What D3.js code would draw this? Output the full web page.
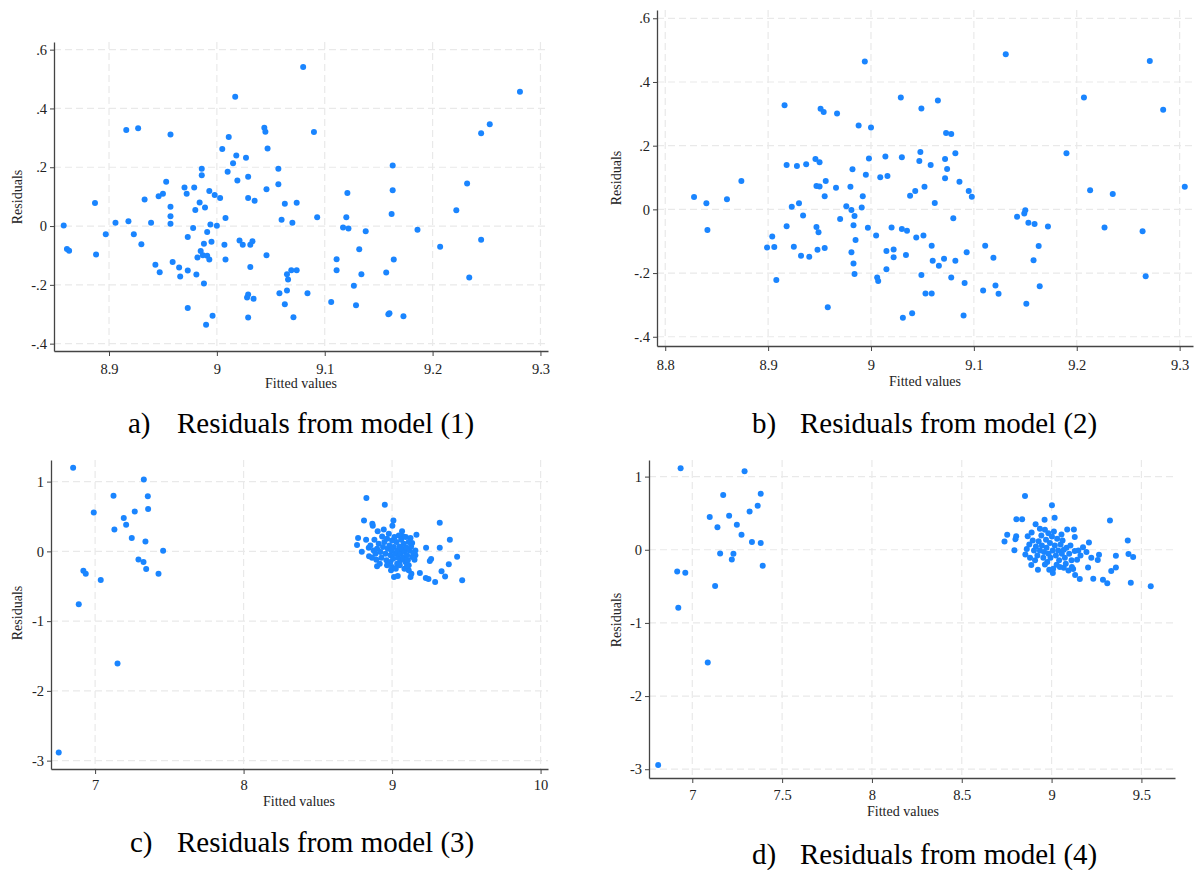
<!DOCTYPE html>
<html>
<head>
<meta charset="utf-8">
<script src="https://cdn.jsdelivr.net/npm/d3@7"></script>
<style>
  body { margin: 0; background: #fff; }
  svg text { font-family: "Liberation Serif", "Times New Roman", serif; fill: #222; }
</style>
</head>
<body>
<svg id="chart" width="1195" height="870"></svg>
<script>
// Residuals vs fitted values
const fittedA = [8.858,8.861,8.863,8.887,8.888,8.897,8.906,8.916,8.918,8.923,
  8.927,8.930,8.933,8.939,8.943,8.946,8.947,8.950,8.953,8.957,
  8.957,8.957,8.957,8.959,8.965,8.966,8.970,8.972,8.973,8.973,
  8.973,8.978,8.979,8.980,8.981,8.982,8.984,8.985,8.986,8.986,
  8.987,8.988,8.988,8.989,8.990,8.991,8.991,8.993,8.993,8.994,
  8.995,8.996,8.998,9.000,9.003,9.005,9.007,9.008,9.008,9.010,
  9.011,9.015,9.017,9.018,9.019,9.021,9.024,9.027,9.028,9.029,
  9.029,9.029,9.029,9.031,9.031,9.033,9.034,9.035,9.044,9.045,
  9.046,9.046,9.047,9.057,9.057,9.058,9.060,9.063,9.063,9.065,
  9.065,9.066,9.069,9.070,9.071,9.074,9.074,
  9.080,9.084,9.090,9.093,9.106,9.111,9.111,9.117,9.120,9.121,
  9.122,9.127,9.129,9.132,9.134,9.138,9.157,9.159,9.160,9.162,
  9.163,9.163,9.164,9.173,9.186,9.207,9.222,9.232,9.234,9.245,
  9.245,9.253,9.281];
const residA = [0.002,-0.078,-0.084,0.078,-0.097,-0.028,0.011,0.327,0.016,-0.028,
  0.333,-0.062,0.090,0.011,-0.132,0.101,-0.157,0.110,0.151,0.066,
  0.311,0.033,0.008,-0.122,-0.141,-0.172,0.131,0.110,-0.037,-0.151,
  -0.279,-0.007,0.131,0.055,-0.165,-0.107,0.080,-0.085,0.195,0.173,
  -0.099,-0.060,-0.195,0.063,-0.336,-0.020,-0.101,0.119,-0.114,0.005,
  -0.053,-0.305,0.106,0.001,0.095,0.262,-0.064,0.027,-0.114,0.185,
  0.303,0.214,0.440,0.240,0.155,-0.049,-0.064,0.232,-0.243,-0.311,
  0.168,0.095,-0.233,-0.064,-0.139,-0.052,-0.247,0.086,0.334,0.321,
  0.125,-0.099,0.264,0.195,0.142,-0.229,0.021,-0.266,0.076,-0.164,
  -0.219,-0.182,-0.150,0.011,-0.310,-0.150,0.079,
  0.541,-0.229,0.320,0.030,-0.258,-0.113,-0.150,-0.005,0.030,0.112,
  -0.008,-0.203,-0.269,-0.079,-0.164,-0.018,-0.158,-0.300,-0.297,0.041,
  0.122,0.206,-0.114,-0.307,-0.013,-0.070,0.054,0.145,-0.175,0.316,
  -0.047,0.346,0.457];

const fittedB = [8.828,8.840,8.841,8.860,8.874,8.899,8.904,8.906,8.908,8.916,
  8.918,8.918,8.923,8.925,8.928,8.930,8.932,8.934,8.937,8.940,
  8.946,8.947,8.947,8.948,8.949,8.950,8.950,8.951,8.954,8.955,
  8.955,8.956,8.958,8.966,8.967,8.970,8.976,8.980,8.981,8.981,
  8.982,8.983,8.983,8.984,8.984,8.985,8.988,8.991,8.992,8.994,
  8.995,8.997,8.998,9.000,9.005,9.006,9.007,9.009,9.014,9.015,
  9.015,9.016,9.020,9.022,9.022,
  9.029,9.030,9.030,9.031,9.034,9.035,9.038,9.040,9.043,9.044,
  9.047,9.048,9.049,9.049,9.051,9.052,9.053,9.058,9.059,9.059,
  9.060,9.062,9.065,9.066,9.071,9.072,9.072,9.073,9.074,9.078,
  9.078,9.080,9.082,9.082,9.086,9.091,9.090,9.093,9.095,9.098,
  9.109,9.111,9.119,9.121,9.124,9.131,9.142,9.149,9.150,9.151,
  9.153,9.158,9.159,9.163,9.164,9.172,9.190,9.207,9.213,9.227,
  9.235,9.264,9.267,9.271,9.284,9.305];
const residB = [0.039,0.019,-0.065,0.032,0.089,-0.120,-0.085,-0.118,-0.222,0.327,
  -0.053,0.139,0.008,-0.117,0.136,0.019,-0.146,-0.019,0.142,-0.149,
  0.158,-0.055,0.073,-0.127,-0.072,0.072,0.148,0.316,0.306,-0.121,
  0.041,0.089,-0.307,0.068,0.301,-0.030,0.010,0.071,-0.002,-0.135,
  0.126,-0.170,-0.050,-0.021,-0.203,-0.096,0.263,0.006,0.041,0.464,
  0.109,-0.058,0.160,0.257,-0.082,-0.214,-0.225,0.101,0.166,-0.131,
  -0.188,0.105,-0.057,-0.150,-0.126,
  0.351,0.164,-0.062,-0.340,-0.143,-0.067,0.043,-0.326,0.058,-0.088,
  0.152,0.180,0.317,-0.206,-0.082,0.071,-0.264,0.139,-0.264,-0.114,
  -0.161,0.020,0.342,-0.177,-0.155,0.098,0.158,0.240,0.127,0.237,
  -0.214,-0.028,0.176,-0.161,0.087,-0.231,-0.333,-0.135,0.058,0.040,
  -0.255,-0.114,-0.152,-0.239,-0.265,0.487,-0.023,-0.013,-0.003,-0.296,
  -0.042,-0.160,-0.046,-0.115,-0.241,-0.054,0.176,0.351,0.060,-0.057,
  0.048,-0.069,-0.210,0.466,0.313,0.071];

const fittedC = [6.852,6.755,6.890,6.921,6.937,6.991,7.038,7.124,7.130,7.151,
  7.193,7.209,7.247,7.267,7.292,7.326,7.328,7.339,7.344,7.355,7.357,7.427,7.458,
  8.827,8.951,8.811,8.867,8.870,8.903,8.944,9.009,9.002,9.067,
  9.164,9.321,9.389,8.771,8.764,8.796,8.825,8.881,8.843,8.845,
  8.899,9.229,9.321,9.438,9.263,9.254,9.382,9.187,9.333,9.357,
  9.472,9.290,9.227,9.245,9.124,9.130,9.038,9.013,8.993,9.112,
  9.083,9.000,9.074,9.124,9.135,9.157,9.157,9.151,9.112,9.090,
  9.056,9.034,9.025,
  8.854,8.876,8.888,8.899,8.910,8.921,8.928,8.939,8.948,8.955,
  8.962,8.966,8.971,8.978,8.982,8.989,8.989,8.996,9.000,9.007,
  9.011,9.016,9.022,9.029,9.034,9.040,9.045,9.049,9.056,9.061,
  9.067,9.074,9.079,9.085,9.092,9.097,9.101,9.106,9.112,9.119,
  9.128,9.135,9.142,8.933,8.894,8.865,8.917,9.052,9.101,8.966];
const residC = [1.198,-2.883,-0.759,-0.277,-0.320,0.558,-0.411,0.797,0.315,-1.609,
  0.477,0.382,0.191,0.573,-0.115,-0.153,1.031,0.143,-0.253,0.792,0.606,-0.320,0.010,
  0.767,0.667,0.443,0.395,0.367,0.290,0.314,0.443,0.367,0.290,
  0.238,0.410,0.167,0.190,0.090,-0.005,0.167,0.167,0.052,-0.071,
  -0.214,0.052,0.052,-0.076,-0.110,-0.138,-0.186,-0.310,-0.286,-0.362,
  -0.414,-0.438,-0.381,-0.395,-0.367,-0.319,-0.352,-0.367,-0.271,-0.271,
  -0.248,-0.224,0.214,0.190,0.119,0.014,-0.057,-0.119,-0.200,-0.152,
  -0.129,-0.176,-0.248,
  0.086,0.014,-0.033,0.038,0.110,-0.010,-0.090,0.062,0.133,-0.033,
  -0.129,0.181,0.038,0.252,0.086,-0.057,-0.152,0.014,0.157,-0.105,
  0.062,0.205,-0.033,0.133,0.014,-0.090,0.229,0.071,-0.033,0.167,
  0.038,-0.090,0.110,-0.010,0.205,0.052,-0.057,-0.129,0.133,0.014,
  0.071,-0.081,-0.024,0.214,-0.119,-0.090,-0.176,-0.200,-0.200,-0.200];

const fittedD = [6.935,6.810,6.916,6.961,6.922,7.097,7.086,7.127,7.140,7.155,
  7.172,7.205,7.220,7.229,7.248,7.274,7.291,7.319,7.332,7.364,7.381,7.381,7.392,
  8.852,9.002,8.804,8.836,9.017,9.325,8.911,8.961,8.753,8.738,
  8.803,8.799,8.793,8.867,8.889,8.854,8.862,8.887,8.924,8.987,
  9.007,9.087,9.124,9.129,9.208,9.264,9.257,9.358,9.424,9.428,
  9.454,9.203,9.358,9.332,9.232,9.286,9.310,9.441,9.552,9.157,
  9.131,9.120,9.094,9.068,9.028,9.055,9.083,9.129,9.175,9.194,
  9.221,9.142,9.111,
  8.876,8.895,8.902,8.913,8.921,8.928,8.935,8.943,8.946,8.954,
  8.958,8.963,8.969,8.972,8.976,8.982,8.983,8.991,8.994,9.002,
  9.006,9.013,9.018,9.024,9.031,9.037,9.042,9.050,9.057,9.061,
  9.068,9.074,9.079,9.098,9.105,9.113,9.149,9.161,8.935,8.908,
  8.880,9.009,9.046,8.963];
const residD = [1.113,-2.941,-0.296,-0.315,-0.793,0.447,-1.541,-0.497,0.306,-0.050,
  0.748,0.465,-0.132,-0.055,0.342,0.205,1.072,0.524,0.105,0.602,0.766,0.091,-0.219,
  0.736,0.609,0.418,0.418,0.436,0.400,0.350,0.409,0.205,0.114,
  0.186,0.145,-0.005,0.186,0.236,-0.064,0.009,-0.209,-0.273,-0.273,
  -0.318,0.277,0.277,0.173,0.100,-0.068,-0.141,-0.082,0.127,-0.059,
  -0.100,-0.241,-0.241,-0.291,-0.395,-0.409,-0.459,-0.450,-0.500,-0.400,
  -0.345,-0.264,-0.282,-0.245,-0.205,0.209,0.027,-0.018,0.036,-0.032,
  -0.109,-0.136,-0.145,
  0.073,0.127,-0.009,0.045,-0.077,0.118,-0.009,0.195,0.059,-0.109,
  -0.032,0.273,0.136,0.027,-0.168,0.227,-0.055,0.091,-0.109,0.182,
  -0.009,0.250,0.059,-0.077,0.150,-0.009,-0.145,0.073,-0.055,0.127,
  0.000,-0.109,-0.191,-0.055,0.059,-0.236,-0.009,-0.077,0.286,-0.145,
  -0.109,-0.259,-0.236,-0.200];

// Tick values and their Stata-style labels
const xTicksA = [8.9, 9, 9.1, 9.2, 9.3];
const xLabelsA = ["8.9", "9", "9.1", "9.2", "9.3"];
const xTicksB = [8.8, 8.9, 9, 9.1, 9.2, 9.3];
const xLabelsB = ["8.8", "8.9", "9", "9.1", "9.2", "9.3"];
const xTicksC = [7, 8, 9, 10];
const xLabelsC = ["7", "8", "9", "10"];
const xTicksD = [7, 7.5, 8, 8.5, 9, 9.5];
const xLabelsD = ["7", "7.5", "8", "8.5", "9", "9.5"];
const yTicksAB = [-0.4, -0.2, 0, 0.2, 0.4, 0.6];
const yLabelsAB = ["-.4", "-.2", "0", ".2", ".4", ".6"];
const yTicksCD = [-3, -2, -1, 0, 1];
const yLabelsCD = ["-3", "-2", "-1", "0", "1"];

const captions = ["Residuals from model (1)", "Residuals from model (2)",
                  "Residuals from model (3)", "Residuals from model (4)"];
const letters = ["a)", "b)", "c)", "d)"];

const svg = d3.select("#chart");
const serif = "'Liberation Serif', 'Times New Roman', serif";
const dotColor = "#1a85ff";
const gridColor = "#e9e9e9";
const axisColor = "#444";

// Layout of each panel (plot box in page pixels)
const panels = [
  { fitted: fittedA, resid: residA, xDomain: [8.849, 9.307], yDomain: [-0.425, 0.626],
    x0: 54, x1: 548, y0: 42, y1: 351, xTicks: xTicksA, xLabels: xLabelsA,
    yTicks: yTicksAB, yLabels: yLabelsAB, yTitle: [17, 197], xTitle: [301, 388],
    tickPad: 8, cap: [128, 177, 433] },
  { fitted: fittedB, resid: residB, xDomain: [8.792, 9.313], yDomain: [-0.429, 0.626],
    x0: 657, x1: 1193, y0: 10, y1: 346, xTicks: xTicksB, xLabels: xLabelsB,
    yTicks: yTicksAB, yLabels: yLabelsAB, yTitle: [616, 178], xTitle: [925, 386],
    tickPad: 9, cap: [752, 800, 433] },
  { fitted: fittedC, resid: residC, xDomain: [6.703, 10.05], yDomain: [-3.12, 1.31],
    x0: 51, x1: 548, y0: 460, y1: 769, xTicks: xTicksC, xLabels: xLabelsC,
    yTicks: yTicksCD, yLabels: yLabelsCD, yTitle: [17, 613], xTitle: [299, 806],
    tickPad: 6, cap: [130, 177, 852] },
  { fitted: fittedD, resid: residD, xDomain: [6.759, 9.687], yDomain: [-3.12, 1.227],
    x0: 649, x1: 1175, y0: 460, y1: 778, xTicks: xTicksD, xLabels: xLabelsD,
    yTicks: yTicksCD, yLabels: yLabelsCD, yTitle: [616, 620], xTitle: [903, 816],
    tickPad: 7, cap: [752, 800, 864] }
];

function drawPanel(p, i) {
  const x = d3.scaleLinear().domain(p.xDomain).range([p.x0, p.x1]);
  const y = d3.scaleLinear().domain(p.yDomain).range([p.y1, p.y0]);
  const g = svg.append("g");

  // dashed grid
  g.append("g").selectAll("line").data(p.yTicks).join("line")
    .attr("x1", p.x0).attr("x2", p.x1)
    .attr("y1", d => y(d)).attr("y2", d => y(d))
    .attr("stroke", gridColor).attr("stroke-width", 1.2).attr("stroke-dasharray", "7,4");
  g.append("g").selectAll("line").data(p.xTicks).join("line")
    .attr("y1", p.y0).attr("y2", p.y1)
    .attr("x1", d => x(d)).attr("x2", d => x(d))
    .attr("stroke", gridColor).attr("stroke-width", 1.2).attr("stroke-dasharray", "7,4");

  // axes
  const xAxis = g.append("g").attr("transform", `translate(0,${p.y1})`)
    .call(d3.axisBottom(x).tickValues(p.xTicks).tickFormat((d, k) => p.xLabels[k])
      .tickSize(5).tickSizeOuter(0).tickPadding(p.tickPad));
  const yAxis = g.append("g").attr("transform", `translate(${p.x0},0)`)
    .call(d3.axisLeft(y).tickValues(p.yTicks).tickFormat((d, k) => p.yLabels[k])
      .tickSize(4).tickSizeOuter(0).tickPadding(3));
  [xAxis, yAxis].forEach(a => {
    a.attr("font-family", null);
    a.select(".domain").attr("stroke", axisColor).attr("stroke-width", 1.3);
    a.selectAll(".tick line").attr("stroke", axisColor).attr("stroke-width", 1);
    a.selectAll(".tick text").style("font-family", serif).style("font-size", "14.5px")
      .style("fill", "#222");
  });

  // points
  g.append("g").selectAll("circle").data(d3.zip(p.fitted, p.resid)).join("circle")
    .attr("cx", d => x(d[0])).attr("cy", d => y(d[1]))
    .attr("r", 3).attr("fill", dotColor);

  // axis titles
  g.append("text").attr("transform", `translate(${p.yTitle[0]},${p.yTitle[1]}) rotate(-90)`)
    .attr("dy", "0.35em").attr("text-anchor", "middle").style("font-size", "14px")
    .text("Residuals");
  g.append("text").attr("x", p.xTitle[0]).attr("y", p.xTitle[1])
    .attr("text-anchor", "middle").style("font-size", "14px").text("Fitted values");

  // caption under the panel
  g.append("text").attr("x", p.cap[0]).attr("y", p.cap[2])
    .style("font-size", "29px").style("fill", "#000").text(letters[i]);
  g.append("text").attr("x", p.cap[1]).attr("y", p.cap[2])
    .style("font-size", "29px").style("fill", "#000").text(captions[i]);
}

panels.forEach(drawPanel);
</script>
</body>
</html>
